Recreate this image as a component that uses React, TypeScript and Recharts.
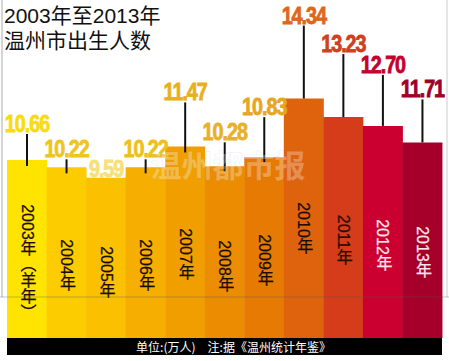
import React from 'react';
import { BarChart, Bar, XAxis, YAxis, Cell, LabelList } from 'recharts';

// ---- data ----
const years = ['2003年（羊年）', '2004年', '2005年', '2006年', '2007年', '2008年', '2009年', '2010年', '2011年', '2012年', '2013年'];
const births = [10.66, 10.22, 9.59, 10.22, 11.47, 10.28, 10.83, 14.34, 13.23, 12.70, 11.71];
const valueLabels = ['10.66', '10.22', '9.59', '10.22', '11.47', '10.28', '10.83', '14.34', '13.23', '12.70', '11.71'];
const titleLines = ['2003年至2013年', '温州市出生人数'];
const footnote = '单位:(万人)　注:据《温州统计年鉴》';
const watermark = '温州都市报';

// ---- styles / layout ----
const barColors = ['#fee400', '#fdcc00', '#fbc000', '#f6ae00', '#f19f00', '#ec8c00', '#e67a02', '#df620c', '#d53c1a', '#cc0030', '#a6002a'];
const valueColors = ['#f6dc10', '#efc41c', '#f6e07a', '#efc01c', '#e8b01e', '#e8b02a', '#e8a61e', '#e0661a', '#d0401e', '#c4002c', '#a00028'];
const yearColors = ['#1a0d00', '#1a0d00', '#1a0d00', '#1a0d00', '#1a0d00', '#1a0d00', '#1a0d00', '#1a0d00', '#2a0a00', '#fde6ee', '#fde6ee'];
const leaderLen = [28, 10, 0, 10, 46, 26, 42, 75, 65, 53, 45];
const leaderInto = [6, 6, 0, 6, 6, 5, 5, 0, 0, 0, 0];
const yearCenter = [262, 265, 272, 265, 254, 266, 260, 228, 240, 245, 252];

const data = years.map((y, i) => ({ year: y, births: births[i], label: valueLabels[i] }));

const getBox = (props: any) => {
  const vb = props.viewBox && props.viewBox.width !== undefined ? props.viewBox : props;
  return { x: Number(vb.x), y: Number(vb.y), width: Number(vb.width), height: Number(vb.height) };
};

const ValueLabel = (props: any) => {
  const { x, y, width } = getBox(props);
  const i = props.index;
  const cx = x + width / 2;
  const len = leaderLen[i];
  const bottom = len > 0 ? y - len : y - 1;
  return (
    <g>
      {len > 0 && (
        <line x1={cx} x2={cx} y1={bottom + 2} y2={y + leaderInto[i]} stroke="#111" strokeWidth={2} />
      )}
      <text
        transform={`translate(${cx},${bottom}) scale(0.86,1)`}
        x={0}
        y={0}
        textAnchor="middle"
        fontFamily="'Liberation Sans', Arial, sans-serif"
        fontWeight={700}
        fontSize={23}
        letterSpacing={-1.2}
        fill={valueColors[i]}
        stroke={valueColors[i]}
        strokeWidth={0.8}
      >
        {props.value}
      </text>
    </g>
  );
};

const YearLabel = (props: any) => {
  const { x, width } = getBox(props);
  const i = props.index;
  const cx = x + width / 2;
  return (
    <text
      x={cx}
      y={yearCenter[i]}
      textAnchor="middle"
      style={{ writingMode: 'vertical-rl' as any }}
      fontFamily="'Liberation Sans', 'Noto Sans CJK SC', sans-serif"
      fontSize={16}
      fill={yearColors[i]}
      stroke={yearColors[i]}
      strokeWidth={0.25}
    >
      {props.value}
    </text>
  );
};

export default function App() {
  return (
    <div style={{ position: 'absolute', left: 0, top: 0, width: 449, height: 361, background: '#fff', overflow: 'hidden' }}>
      <BarChart width={449} height={361} data={data} margin={{ top: 4, right: 7, bottom: 23, left: 7 }} barCategoryGap={0} barGap={0}>
        <XAxis dataKey="year" hide />
        <YAxis hide domain={[0, 20]} />
        <Bar dataKey="births" isAnimationActive={false}>
          {data.map((d, i) => (
            <Cell key={d.year} fill={barColors[i]} />
          ))}
          <LabelList dataKey="year" content={YearLabel} />
          <LabelList dataKey="label" content={ValueLabel} />
        </Bar>
      </BarChart>
      <svg width={449} height={361} style={{ position: 'absolute', left: 0, top: 0, pointerEvents: 'none' }}>
        <text
          x={228}
          y={177}
          textAnchor="middle"
          fontFamily="'Noto Sans CJK SC', sans-serif"
          fontWeight={700}
          fontSize={31}
          fill="#ffffff"
          fillOpacity={0.3}
          stroke="#999"
          strokeOpacity={0.2}
          strokeWidth={0.6}
        >
          {watermark}
        </text>
        <line x1={2} x2={2} y1={0} y2={297} stroke="#aaa" strokeWidth={1} />
        <line x1={447} x2={447} y1={0} y2={297} stroke="#ccc" strokeWidth={1} />
        <line x1={0} x2={449} y1={297} y2={297} stroke="#555" strokeOpacity={0.35} strokeWidth={1} />
      </svg>
      <div
        style={{
          position: 'absolute',
          left: 4,
          top: 3,
          fontFamily: "'Liberation Sans', 'Noto Sans CJK SC', sans-serif",
          fontSize: 21,
          lineHeight: '25px',
          color: '#111',
          whiteSpace: 'nowrap',
        }}
      >
        <div>{titleLines[0]}</div>
        <div>{titleLines[1]}</div>
      </div>
      <div
        style={{
          position: 'absolute',
          left: 7,
          top: 338,
          width: 435,
          height: 17,
          background: '#000',
          color: '#fff',
          fontFamily: "'Noto Sans CJK SC', sans-serif",
          fontSize: 12,
          lineHeight: '17px',
          textAlign: 'center',
          paddingLeft: 18,
          boxSizing: 'border-box',
          whiteSpace: 'nowrap',
        }}
      >
        {footnote}
      </div>
    </div>
  );
}
